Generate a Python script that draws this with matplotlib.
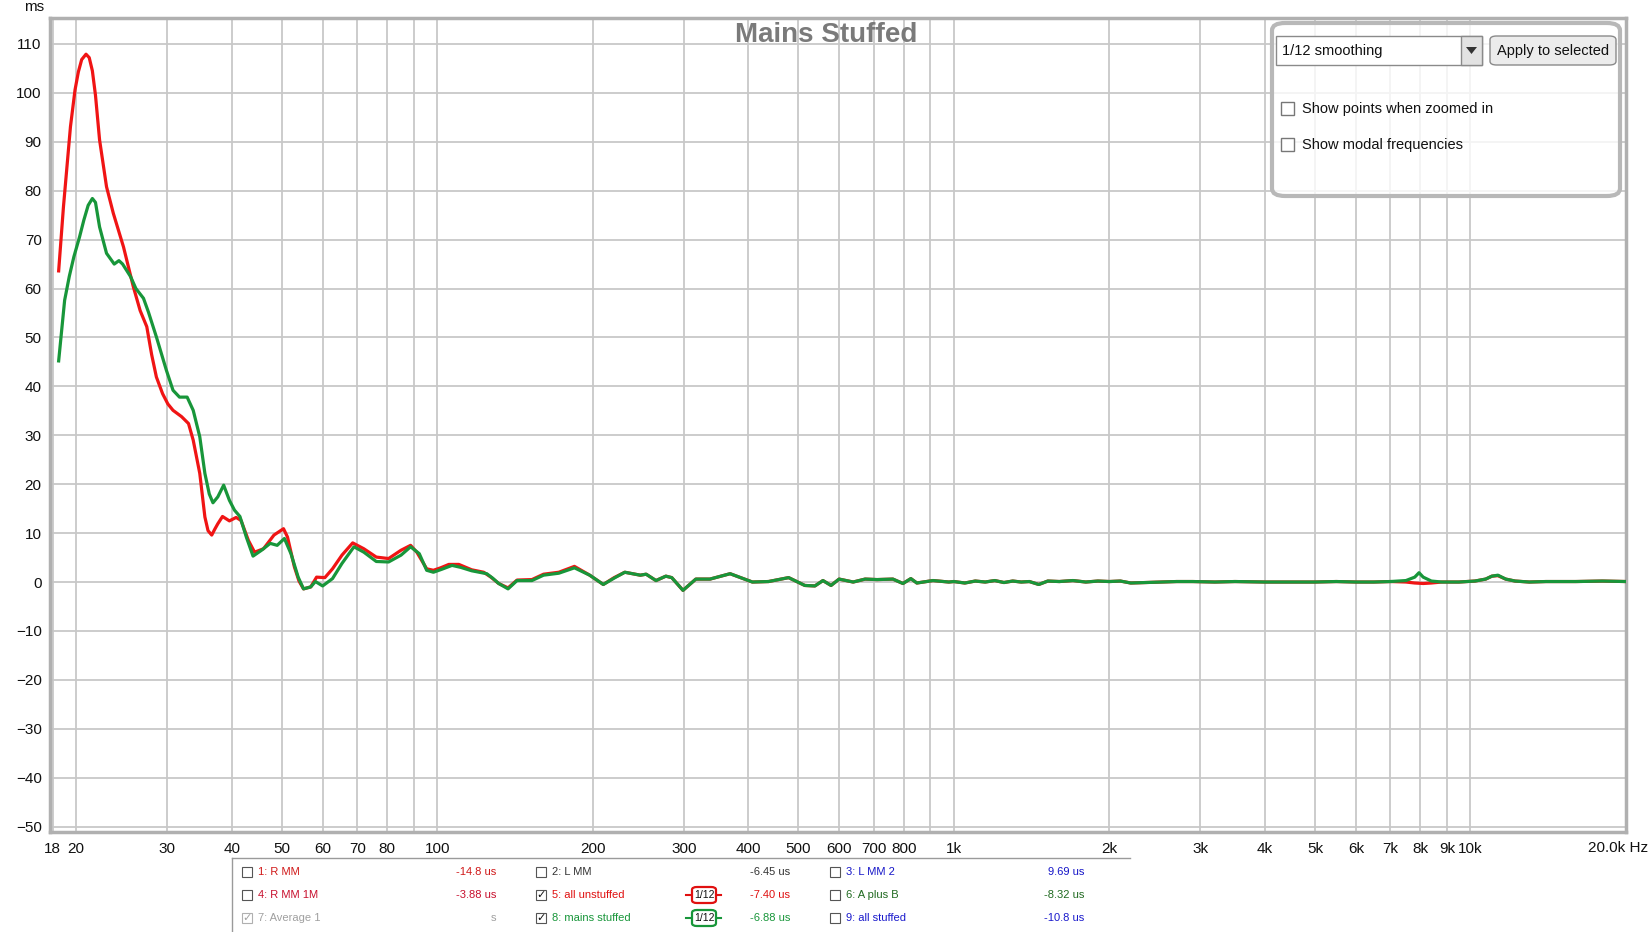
import matplotlib
matplotlib.use("Agg")
import matplotlib.pyplot as plt
from matplotlib.patches import Rectangle, FancyBboxPatch, Polygon
from matplotlib.lines import Line2D

# ---- data (Hz, ms) ----
red_freq = [18.5, 18.9, 19.2, 19.5, 19.9, 20.2, 20.5, 20.9, 21.2, 21.5,
            21.8, 22.2, 22.9, 23.6, 24.7, 25.8, 26.6, 27.4, 28.0, 28.6,
            29.4, 30.1, 30.8, 32.0, 33.0, 33.7, 34.7, 35.5, 36.0, 36.6,
            37.1, 37.6, 38.4, 39.6, 40.8, 41.7, 43.1, 44.3, 46.1, 48.3,
            50.4, 51.3, 52.9, 54.0, 55.1, 56.9, 58.4, 60.6, 62.7, 65.4,
            68.6, 72.1, 76.2, 80.5, 85.1, 88.8, 91.3, 95.4, 98.3, 101.5,
            105.3, 110.1, 116.6, 123.0, 127.0, 131.5, 137.1, 142.7, 152.5, 160.6,
            171.9, 184.3, 197.3, 209.6, 220.0, 230.7, 247.2, 253.7, 265.1, 277,
            284.4, 299, 316.6, 337.2, 368.9, 407.4, 437.8, 478.8, 514.6, 538.3,
            557.9, 578.4, 599.6, 638.4, 673.3, 710, 762, 797, 825.5, 847.9,
            911, 978, 1000, 1050, 1100, 1150, 1200, 1250, 1300, 1350,
            1400, 1460, 1520, 1600, 1700, 1800, 1900, 2000, 2100, 2200,
            2350, 2500, 2700, 2900, 3200, 3500, 4000, 4500, 5000, 5500,
            6000, 6500, 7000, 7500, 7800, 8100, 8400, 8800, 9500, 10200,
            10700, 11000, 11300, 11700, 12200, 13000, 14000, 16000, 18000, 20000]
red_ms = [63.6, 76.7, 85.0, 93.1, 100.6, 104.3, 106.8, 107.9, 107.2, 104.5,
          99.5, 90.4, 80.8, 75.4, 68.5, 60.4, 55.5, 52.2, 46.5, 41.9,
          38.5, 36.4, 35.1, 33.8, 32.4, 29.0, 22.2, 13.3, 10.5, 9.6,
          10.8, 11.9, 13.4, 12.5, 13.2, 12.6, 8.5, 6.1, 6.8, 9.6,
          10.9, 9.2, 3.1, 0.2, -1.4, -1.0, 1.0, 0.9, 2.7, 5.5,
          8.0, 6.8, 5.1, 4.8, 6.5, 7.5, 6.1, 2.7, 2.4, 2.9,
          3.6, 3.6, 2.5, 2.0, 1.0, -0.3, -1.2, 0.4, 0.5, 1.6,
          2.0, 3.2, 1.4, -0.5, 0.9, 2.0, 1.4, 1.6, 0.3, 1.2,
          0.9, -1.7, 0.6, 0.6, 1.7, 0.0, 0.1, 0.9, -0.7, -0.8,
          0.3, -0.7, 0.6, 0.0, 0.6, 0.5, 0.6, -0.3, 0.7, -0.2,
          0.3, 0.0, 0.1, -0.2, 0.2, 0.0, 0.3, -0.1, 0.2, 0.0,
          0.1, -0.5, 0.2, 0.1, 0.3, 0.0, 0.2, 0.1, 0.2, -0.2,
          -0.1, 0.0, 0.1, 0.1, 0.0, 0.1, 0.0, 0.0, 0.0, 0.1,
          0.0, 0.0, 0.1, 0.0, -0.2, -0.3, -0.2, 0.0, 0.0, 0.2,
          0.6, 1.2, 1.3, 0.6, 0.2, 0.0, 0.1, 0.1, 0.2, 0.1]

green_freq = [18.5, 19.0, 19.4, 19.8, 20.3, 20.7, 21.1, 21.5, 21.8, 22.2,
              22.9, 23.7, 24.2, 24.6, 25.5, 26.1, 27.0, 27.6, 28.6, 29.9,
              30.8, 31.7, 32.8, 33.7, 34.7, 35.5, 36.2, 36.8, 37.6, 38.6,
              39.6, 40.5, 41.5, 42.7, 44.0, 45.7, 47.5, 49.0, 50.6, 52.1,
              53.8, 55.1, 56.9, 58.1, 60.0, 62.7, 65.4, 69.0, 72.1, 76.2,
              80.5, 85.1, 88.8, 92.3, 95.4, 98.3, 102.0, 106.8, 111.0, 116.6,
              124.7, 128.0, 131.5, 137.1, 142.7, 152.5, 160.6, 171.9, 184.3, 197.3,
              209.6, 220.0, 230.7, 247.2, 253.7, 265.1, 277, 284.4, 299, 316.6,
              337.2, 368.9, 407.4, 437.8, 478.8, 514.6, 538.3, 557.9, 578.4, 599.6,
              638.4, 673.3, 710, 762, 797, 825.5, 847.9, 911, 978, 1000,
              1050, 1100, 1150, 1200, 1250, 1300, 1350, 1400, 1460, 1520,
              1600, 1700, 1800, 1900, 2000, 2100, 2200, 2350, 2500, 2700,
              2900, 3200, 3500, 4000, 4500, 5000, 5500, 6000, 6500, 7000,
              7500, 7800, 7950, 8100, 8400, 8800, 9500, 10200, 10700, 11000,
              11300, 11700, 12200, 13000, 14000, 16000, 18000, 20000]
green_ms = [45.2, 57.6, 62.5, 66.5, 70.5, 74.0, 77.0, 78.4, 77.6, 72.6,
            67.2, 65.0, 65.7, 65.0, 62.4, 60.0, 58.0, 55.2, 50.1, 43.3,
            39.2, 37.8, 37.8, 35.1, 29.7, 22.2, 18.0, 16.2, 17.4, 19.8,
            16.7, 14.7, 13.4, 9.2, 5.3, 6.5, 7.9, 7.5, 8.9, 5.8,
            1.0, -1.4, -1.0, 0.1, -0.8, 0.7, 3.8, 7.2, 6.1, 4.2,
            4.1, 5.5, 7.2, 5.8, 2.4, 2.0, 2.6, 3.4, 3.0, 2.3,
            1.7, 0.8, -0.3, -1.4, 0.3, 0.3, 1.4, 1.8, 2.9, 1.4,
            -0.5, 0.8, 2.0, 1.4, 1.6, 0.3, 1.2, 0.9, -1.7, 0.6,
            0.6, 1.7, 0.0, 0.1, 0.9, -0.7, -0.8, 0.3, -0.7, 0.6,
            0.0, 0.6, 0.5, 0.6, -0.3, 0.7, -0.2, 0.3, 0.0, 0.1,
            -0.2, 0.2, 0.0, 0.3, -0.1, 0.2, 0.0, 0.1, -0.5, 0.2,
            0.1, 0.3, 0.0, 0.2, 0.1, 0.2, -0.2, -0.1, 0.0, 0.1,
            0.1, 0.0, 0.1, 0.0, 0.0, 0.0, 0.1, 0.0, 0.0, 0.1,
            0.3, 1.0, 1.9, 1.0, 0.2, 0.0, 0.0, 0.2, 0.6, 1.2,
            1.4, 0.6, 0.2, 0.0, 0.1, 0.1, 0.2, 0.1]

x_ticks = [18, 20, 30, 40, 50, 60, 70, 80, 90, 100, 200, 300, 400, 500, 600,
           700, 800, 900, 1000, 2000, 3000, 4000, 5000, 6000, 7000, 8000,
           9000, 10000, 20000]
x_labels = ["18", "20", "30", "40", "50", "60", "70", "80", "", "100", "200",
            "300", "400", "500", "600", "700", "800", "", "1k", "2k", "3k",
            "4k", "5k", "6k", "7k", "8k", "9k", "10k", ""]
y_ticks = list(range(-50, 111, 10))

# legend table rows: (label, value, colour, state)
legend_rows = [
    [("1: R MM", "-14.8 us", "#d01818", ""), ("2: L MM", "-6.45 us", "#333333", ""),
     ("3: L MM 2", "9.69 us", "#1515c8", "")],
    [("4: R MM 1M", "-3.88 us", "#c8102e", ""), ("5: all unstuffed", "-7.40 us", "#e01010", "on"),
     ("6: A plus B", "-8.32 us", "#206a20", "")],
    [("7: Average 1", "s", "#a0a0a0", "grey"), ("8: mains stuffed", "-6.88 us", "#18963a", "on"),
     ("9: all stuffed", "-10.8 us", "#1a1acc", "")],
]

W, H = 1651, 932
plt.rcParams["font.family"] = ["Liberation Sans", "DejaVu Sans"]


def fx(x):
    return x / W


def fy(y):
    return 1 - y / H


fig = plt.figure(figsize=(W / 100, H / 100), dpi=100)
ax = fig.add_axes([fx(50), fy(832), fx(1626) - fx(50), fy(18) - fy(832)])

ax.plot(red_freq, red_ms, color="#f01414", lw=2.3, solid_joinstyle="round", zorder=3)
ax.plot(green_freq, green_ms, color="#18963a", lw=2.3, solid_joinstyle="round", zorder=4)

ax.set_xscale("log")
ax.set_xlim(17.8, 20000)
ax.set_ylim(-51.1, 115.3)
ax.set_xticks(x_ticks)
ax.set_xticklabels(x_labels)
ax.minorticks_off()
ax.set_yticks(y_ticks)
ax.tick_params(axis="x", length=0, pad=7, labelsize=11, colors="#111111")
ax.tick_params(axis="y", length=0, pad=6, labelsize=11, colors="#111111")
ax.grid(True, color="#c8c8c8", lw=1.3)
ax.set_axisbelow(True)
for s in ax.spines.values():
    s.set_color("#b0b0b0")
    s.set_linewidth(2.5)

fig.text(fx(1648), fy(848), "20.0k Hz", ha="right", va="center", fontsize=11, color="#111111")
fig.text(fx(34), fy(7), "ms", ha="center", va="center", fontsize=11, color="#111111")
fig.text(fx(826), fy(35), "Mains Stuffed", ha="center", va="center", fontsize=20,
         fontweight="bold", color="#7a7a7a")

# ---- smoothing control panel ----
fig.add_artist(FancyBboxPatch((fx(1272), fy(196)), fx(348), 173 / H,
                              boxstyle="round,pad=0,rounding_size=0.008",
                              transform=fig.transFigure, fc=(1, 1, 1, 0.8),
                              ec="#b8b8b8", lw=3, zorder=5))
fig.add_artist(Rectangle((fx(1276), fy(65)), fx(206), 29 / H, transform=fig.transFigure,
                         fc="white", ec="#8a8a8a", lw=1, zorder=6))
fig.add_artist(Rectangle((fx(1461), fy(65)), fx(21), 29 / H, transform=fig.transFigure,
                         fc="#e2e2e2", ec="#8a8a8a", lw=1, zorder=6))
fig.add_artist(Polygon([(fx(1466), fy(47)), (fx(1477), fy(47)), (fx(1471.5), fy(54))],
                       closed=True, transform=fig.transFigure, fc="#333333", ec="none", zorder=7))
fig.text(fx(1282), fy(50.5), "1/12 smoothing", ha="left", va="center", fontsize=10.5,
         color="#111111", zorder=7)
fig.add_artist(FancyBboxPatch((fx(1490), fy(65)), fx(126), 29 / H,
                              boxstyle="round,pad=0,rounding_size=0.004",
                              transform=fig.transFigure, fc="#ececec", ec="#8a8a8a",
                              lw=1, zorder=6))
fig.text(fx(1553), fy(50.5), "Apply to selected", ha="center", va="center", fontsize=10.5,
         color="#111111", zorder=7)
for cy, txt in [(109, "Show points when zoomed in"), (145, "Show modal frequencies")]:
    fig.add_artist(Rectangle((fx(1281), fy(cy + 6)), fx(13), 13 / H, transform=fig.transFigure,
                             fc="white", ec="#777777", lw=1, zorder=6))
    fig.text(fx(1302), fy(cy), txt, ha="left", va="center", fontsize=10.5,
             color="#111111", zorder=7)

# ---- trace legend table ----
fig.add_artist(Line2D([fx(232), fx(1130)], [fy(858), fy(858)], transform=fig.transFigure,
                      color="#9a9a9a", lw=1))
fig.add_artist(Line2D([fx(232), fx(232)], [fy(858), fy(932)], transform=fig.transFigure,
                      color="#9a9a9a", lw=1))
col_box = [242, 536, 830]
col_val = [496, 790, 1084]
row_y = [872, 895, 918]
for r, row in enumerate(legend_rows):
    y = row_y[r]
    for c, (label, val, colr, state) in enumerate(row):
        bx = col_box[c]
        ec = "#b0b0b0" if state == "grey" else "#555555"
        fig.add_artist(Rectangle((fx(bx), fy(y + 5)), fx(10), 10 / H, transform=fig.transFigure,
                                 fc="white", ec=ec, lw=0.8))
        if state:
            fig.text(fx(bx + 5), fy(y), "\u2713", ha="center", va="center", fontsize=8,
                     family="DejaVu Sans", fontweight="bold",
                     color="#a0a0a0" if state == "grey" else "#111111")
        fig.text(fx(bx + 16), fy(y), label, ha="left", va="center", fontsize=8, color=colr)
        fig.text(fx(col_val[c]), fy(y), val, ha="right", va="center", fontsize=8, color=colr)

# smoothing badges next to the checked traces
for y, colr in [(895, "#e01010"), (918, "#18963a")]:
    fig.add_artist(Line2D([fx(686), fx(721)], [fy(y), fy(y)], transform=fig.transFigure,
                          color=colr, lw=1.5, zorder=2))
    fig.add_artist(FancyBboxPatch((fx(692), fy(y + 8)), fx(24), 16 / H,
                                  boxstyle="round,pad=0,rounding_size=0.003",
                                  transform=fig.transFigure, fc="white", ec=colr, lw=1.6,
                                  zorder=3))
    fig.text(fx(704), fy(y), "1/12", ha="center", va="center", fontsize=7.5,
             color="#111111", zorder=4)

fig.savefig("out.png", dpi=100, facecolor="white")
